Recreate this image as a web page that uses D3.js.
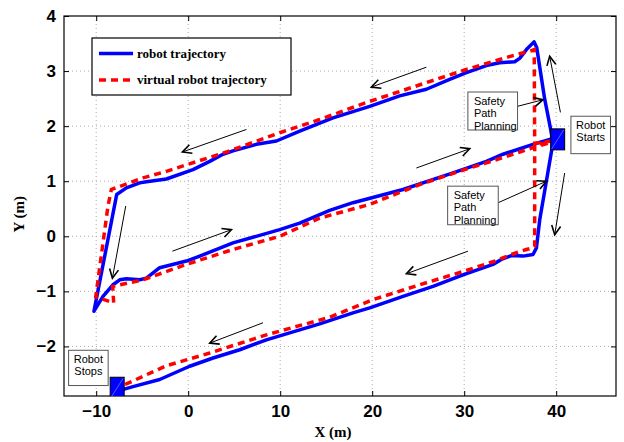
<!DOCTYPE html>
<html>
<head>
<style>
  body { margin: 0; background: #fff; }
  text { fill: #000; }
</style>
</head>
<body>
<script src="https://cdn.jsdelivr.net/npm/d3@7"></script>
<script>
// robot trajectory (x, y in metres)
var robotPath = [
  [39.62, 1.72], [39.40, 1.94], [38.75, 2.49], [37.88, 3.43], [37.59, 3.53],
  [36.76, 3.39], [36.03, 3.23], [35.49, 3.17], [33.86, 3.15], [32.41, 3.10],
  [30.24, 2.97], [28.42, 2.85], [25.89, 2.67], [22.99, 2.55], [19.73, 2.36],
  [15.74, 2.15], [12.12, 1.91], [9.59, 1.73], [7.41, 1.67], [4.87, 1.55],
  [3.78, 1.49], [2.34, 1.36], [0.52, 1.21], [-2.37, 1.04], [-4.54, 0.99],
  [-5.27, 0.97], [-6.72, 0.88], [-7.77, 0.76], [-10.24, -1.36], [-9.26, -1.09],
  [-8.17, -0.88], [-7.45, -0.79], [-6.72, -0.77], [-5.27, -0.79], [-4.54, -0.76],
  [-3.10, -0.57], [-0.20, -0.45], [1.25, -0.36], [4.87, -0.12], [9.95, 0.12],
  [12.12, 0.24], [15.38, 0.47], [17.91, 0.61], [23.35, 0.85], [28.78, 1.15],
  [32.41, 1.36], [34.22, 1.49], [37.48, 1.67], [39.29, 1.76], [39.65, 1.70],
  [38.93, 1.00], [38.21, 0.30], [37.85, -0.21], [37.48, -0.33], [36.39, -0.36],
  [35.13, -0.35], [34.04, -0.42], [33.13, -0.51], [29.87, -0.70], [26.61, -0.91],
  [23.35, -1.09], [19.73, -1.30], [17.91, -1.39], [14.29, -1.59], [12.12, -1.70],
  [8.50, -1.88], [5.60, -2.06], [2.70, -2.21], [0.16, -2.36], [-3.10, -2.60],
  [-6.00, -2.73], [-7.23, -2.79]
];

// virtual robot trajectory
var virtualPath = [
  [39.51, 1.73], [37.66, 1.69], [37.61, 3.39], [37.12, 3.36], [35.67, 3.30],
  [30.24, 3.03], [25.89, 2.79], [19.37, 2.43], [14.29, 2.12], [12.12, 2.00],
  [9.95, 1.88], [4.15, 1.53], [-2.37, 1.18], [-4.91, 1.06], [-8.35, 0.85],
  [-8.72, 0.55], [-10.05, -1.10], [-8.10, -1.21], [-8.21, -0.91], [-4.91, -0.79],
  [-0.20, -0.51], [4.87, -0.24], [9.95, 0.00], [14.29, 0.33], [19.73, 0.58],
  [25.16, 0.94], [30.60, 1.24], [34.22, 1.43], [37.48, 1.61], [39.29, 1.70],
  [37.66, 1.67], [37.66, -0.18], [37.48, -0.21], [36.76, -0.24], [35.13, -0.33],
  [33.50, -0.44], [29.87, -0.64], [25.16, -0.88], [20.09, -1.15], [15.38, -1.47],
  [8.50, -1.79], [2.34, -2.12], [-2.37, -2.35], [-6.72, -2.68], [-7.45, -2.71]
];

// direction arrows: [x1, y1, x2, y2]
var dirArrows = [
  [25.89, 3.07, 19.91, 2.71],
  [6.33, 1.94, -0.63, 1.53],
  [40.46, 2.25, 39.29, 3.27],
  [40.92, 1.15, 39.84, 0.03],
  [24.80, 1.24, 30.60, 1.59],
  [-1.72, -0.27, 4.70, 0.12],
  [30.41, -0.27, 23.72, -0.68],
  [8.13, -1.57, 2.34, -1.94],
  [-6.79, 0.55, -8.24, -0.76]
];

// robot markers: [x, y]
var markers = [[40.16, 1.76], [-7.72, -2.75]];

// text boxes: x0, y0 (top-left), x1, y1 (bottom-right), lines, align
var notes = [
  { box: [30.4, 2.62, 35.8, 1.93], lines: ['Safety', 'Path', 'Planning'], align: 'start' },
  { box: [28.2, 0.91, 33.7, 0.21], lines: ['Safety', 'Path', 'Planning'], align: 'start' },
  { box: [41.6, 2.18, 45.9, 1.50], lines: ['Robot', 'Starts'], align: 'middle' },
  { box: [-13.0, -2.07, -8.7, -2.71], lines: ['Robot', 'Stops'], align: 'middle' }
];
// arrows from the safety boxes
var noteArrows = [
  [35.8, 2.36, 38.57, 2.48],
  [33.7, 0.61, 38.93, 1.00]
];

var xTicks = [-10, 0, 10, 20, 30, 40];
var yTicks = [-2, -1, 0, 1, 2, 3, 4];

var width = 624, height = 442;
var mLeft = 64, mRight = 616, mTop = 16, mBottom = 396;

var svg = d3.select('body').append('svg')
  .attr('width', width).attr('height', height);

var x = d3.scaleLinear().domain([-13.5, 46.5]).range([mLeft, mRight]);
var y = d3.scaleLinear().domain([-2.9, 4]).range([mBottom, mTop]);

var defs = svg.append('defs');
defs.append('clipPath').attr('id', 'clip')
  .append('rect').attr('x', mLeft).attr('y', mTop)
  .attr('width', mRight - mLeft).attr('height', mBottom - mTop);
defs.append('marker').attr('id', 'head')
  .attr('viewBox', '-10 -6 12 12').attr('refX', 0).attr('refY', 0)
  .attr('markerWidth', 12).attr('markerHeight', 12)
  .attr('markerUnits', 'userSpaceOnUse').attr('orient', 'auto')
  .append('path').attr('d', 'M-9,-4.5L0,0L-9,4.5')
  .attr('fill', 'none').attr('stroke', '#000').attr('stroke-width', 1.6);

// grid
var grid = svg.append('g').attr('stroke', '#aaa').attr('stroke-dasharray', '1,3');
grid.selectAll('.gx').data(xTicks).enter().append('line')
  .attr('x1', function(d) { return x(d); }).attr('x2', function(d) { return x(d); })
  .attr('y1', mTop).attr('y2', mBottom);
grid.selectAll('.gy').data(yTicks.filter(function(d) { return d < 4; })).enter().append('line')
  .attr('y1', function(d) { return y(d); }).attr('y2', function(d) { return y(d); })
  .attr('x1', mLeft).attr('x2', mRight);

// axes
var fontTick = 'bold 17px "Liberation Sans", Arial, sans-serif';
var fmt = function(d) { return d < 0 ? '\u2212' + (-d) : d; };
var xAxis = svg.append('g').attr('transform', 'translate(0,' + mBottom + ')')
  .call(d3.axisBottom(x).tickValues(xTicks).tickSizeInner(-5).tickSizeOuter(0).tickPadding(9).tickFormat(fmt));
xAxis.selectAll('text').style('font', fontTick);
var yAxis = svg.append('g').attr('transform', 'translate(' + mLeft + ',0)')
  .call(d3.axisLeft(y).tickValues(yTicks).tickSizeInner(-5).tickSizeOuter(0).tickPadding(8).tickFormat(fmt));
yAxis.selectAll('text').style('font', fontTick);
svg.append('g').attr('transform', 'translate(0,' + mTop + ')')
  .call(d3.axisTop(x).tickValues(xTicks).tickSizeInner(-5).tickSizeOuter(0).tickFormat(''));
svg.append('g').attr('transform', 'translate(' + mRight + ',0)')
  .call(d3.axisRight(y).tickValues(yTicks).tickSizeInner(-5).tickSizeOuter(0).tickFormat(''));
svg.selectAll('.domain').remove();
svg.append('rect').attr('x', mLeft).attr('y', mTop)
  .attr('width', mRight - mLeft).attr('height', mBottom - mTop)
  .attr('fill', 'none').attr('stroke', '#000').attr('stroke-width', 1.2);

svg.append('text').attr('x', 333).attr('y', 437).attr('text-anchor', 'middle')
  .style('font', 'bold 15px "Liberation Serif", "Times New Roman", serif').text('X (m)');
svg.append('text').attr('transform', 'translate(24,' + y(0.4) + ') rotate(-90)')
  .attr('text-anchor', 'middle')
  .style('font', 'bold 15px "Liberation Serif", "Times New Roman", serif').text('Y (m)');

var plot = svg.append('g').attr('clip-path', 'url(#clip)');
var line = d3.line().x(function(d) { return x(d[0]); }).y(function(d) { return y(d[1]); });

plot.append('path').datum(robotPath).attr('d', line)
  .attr('fill', 'none').attr('stroke', '#0000ff').attr('stroke-width', 3.5)
  .attr('stroke-linejoin', 'round').attr('stroke-linecap', 'round');
plot.append('path').datum(virtualPath).attr('d', line)
  .attr('fill', 'none').attr('stroke', '#ff0000').attr('stroke-width', 3.5)
  .attr('stroke-dasharray', '7,5');

// direction arrows
plot.selectAll('.dir').data(dirArrows.concat(noteArrows)).enter().append('line')
  .attr('x1', function(d) { return x(d[0]); }).attr('y1', function(d) { return y(d[1]); })
  .attr('x2', function(d) { return x(d[2]); }).attr('y2', function(d) { return y(d[3]); })
  .attr('stroke', '#000').attr('stroke-width', 1).attr('marker-end', 'url(#head)');

// robot markers
var mk = plot.selectAll('.mk').data(markers).enter().append('g')
  .attr('transform', function(d) { return 'translate(' + x(d[0]) + ',' + y(d[1]) + ')'; });
mk.append('rect').attr('x', -7).attr('y', -10.5).attr('width', 14).attr('height', 21)
  .attr('fill', '#0000ff').attr('stroke', '#000').attr('stroke-width', 1);
mk.append('line').attr('x1', -6).attr('y1', 9.5).attr('x2', 6).attr('y2', -9.5)
  .attr('stroke', '#6b8cff').attr('stroke-width', 0.7);

// note boxes
var note = svg.selectAll('.note').data(notes).enter().append('g');
note.append('rect')
  .attr('x', function(d) { return x(d.box[0]); }).attr('y', function(d) { return y(d.box[1]); })
  .attr('width', function(d) { return x(d.box[2]) - x(d.box[0]); })
  .attr('height', function(d) { return y(d.box[3]) - y(d.box[1]); })
  .attr('fill', '#fff').attr('stroke', '#555').attr('stroke-width', 1);
note.each(function(d) {
  var g = d3.select(this);
  var x0 = x(d.box[0]), x1 = x(d.box[2]), y0 = y(d.box[1]);
  var tx = d.align === 'middle' ? (x0 + x1) / 2 : x0 + 6;
  d.lines.forEach(function(t, i) {
    g.append('text').attr('x', tx).attr('y', y0 + 12.5 + i * 12.7)
      .attr('text-anchor', d.align)
      .style('font', '11px "Liberation Sans", Arial, sans-serif').text(t);
  });
});

// legend
var lg = svg.append('g');
lg.append('rect').attr('x', 92).attr('y', 38).attr('width', 199).attr('height', 57)
  .attr('fill', '#fff').attr('stroke', '#000').attr('stroke-width', 1.2);
lg.append('line').attr('x1', 99).attr('x2', 133).attr('y1', 53.5).attr('y2', 53.5)
  .attr('stroke', '#0000ff').attr('stroke-width', 3.5);
lg.append('line').attr('x1', 99).attr('x2', 133).attr('y1', 80).attr('y2', 80)
  .attr('stroke', '#ff0000').attr('stroke-width', 3.5).attr('stroke-dasharray', '7,5');
var lf = 'bold 13px "Liberation Serif", "Times New Roman", serif';
lg.append('text').attr('x', 137).attr('y', 58).style('font', lf).text('robot trajectory');
lg.append('text').attr('x', 137).attr('y', 84).style('font', lf).text('virtual robot trajectory');
</script>
</body>
</html>
